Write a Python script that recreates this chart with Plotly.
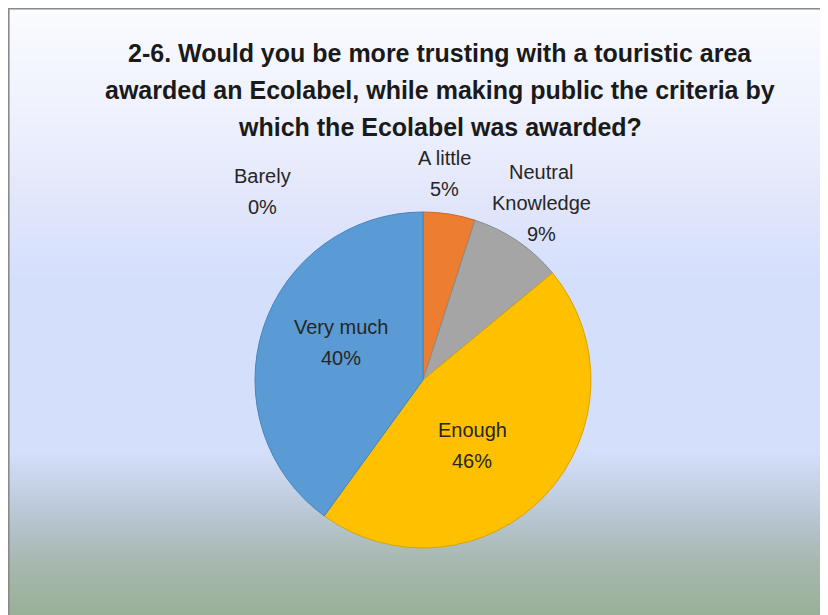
import plotly.graph_objects as go

# ---- data ----
categories = ["Barely", "A little", "Neutral<br>Knowledge", "Enough", "Very much"]
values = [0, 5, 9, 46, 40]
colors = ["#7F6000", "#ED7D31", "#A5A5A5", "#FFC000", "#5B9BD5"]
edge_colors = ["#6a5000", "#C8692A", "#8C8C8C", "#D9A300", "#4A84B8"]
title_lines = ["2-6. Would you be more trusting with a touristic area",
               "awarded an Ecolabel, while making public the criteria by",
               "which the Ecolabel was awarded?"]

W, H = 828, 615
OFF = 8  # page body margin
FONT = "Liberation Sans Narrow, Liberation Sans, Arial"


def px(x):
    return (x - OFF) / W


def py(y):
    return 1 - (y - OFF) / H


fig = go.Figure()
R = 168
CX, CY = 423, 380
fig.add_trace(go.Pie(
    labels=categories, values=values, sort=False, direction="clockwise",
    rotation=0, textinfo="none", hoverinfo="label+percent",
    marker=dict(colors=colors, line=dict(color=edge_colors, width=1)),
    domain=dict(x=[px(CX - R), px(CX + R)], y=[py(CY + R), py(CY - R)]),
    showlegend=False,
))

# ---- background gradient (styling) ----
stops = [(0, (251, 252, 255)), (120, (238, 241, 252)), (200, (226, 230, 251)),
         (280, (212, 223, 252)), (450, (212, 223, 252)), (470, (205, 216, 240)),
         (510, (186, 200, 216)), (560, (168, 184, 176)), (615, (152, 176, 152))]


def col_at(y):
    for (y0, c0), (y1, c1) in zip(stops[:-1], stops[1:]):
        if y0 <= y <= y1:
            t = (y - y0) / (y1 - y0) if y1 > y0 else 0
            return tuple(round(a + (b - a) * t) for a, b in zip(c0, c1))
    return stops[-1][1]


shapes = []
step = 4
for y in range(0, H, step):
    c = col_at(y + OFF + step / 2)
    shapes.append(dict(type="rect", xref="paper", yref="paper", layer="below",
                       x0=0, x1=1, y0=1 - (y + step + 1) / H, y1=1 - y / H,
                       fillcolor="rgb(%d,%d,%d)" % c, line=dict(width=0)))
# frame
shapes.append(dict(type="line", xref="paper", yref="paper", x0=0.6 / W, x1=0.6 / W,
                   y0=0, y1=1, line=dict(color="#8a8a8a", width=2)))
shapes.append(dict(type="line", xref="paper", yref="paper", x0=0, x1=1,
                   y0=1 - 0.6 / H, y1=1 - 0.6 / H, line=dict(color="#8a8a8a", width=2)))

# ---- data labels ----
label_pos = [(263, 176), (444, 158), (541, 172), (472, 430), (341, 327)]
LINE = 31
annotations = []
total = sum(values)
for cat, v, (lx, ly) in zip(categories, values, label_pos):
    lines = cat.split("<br>") + [f"{round(100 * v / total)}%"]
    for i, t in enumerate(lines):
        annotations.append(dict(
            text=t, x=px(lx), y=py(ly + i * LINE),
            xref="paper", yref="paper", showarrow=False, xanchor="center",
            yanchor="middle", font=dict(family=FONT, size=20, color="#262626")))

for i, t in enumerate(title_lines):
    annotations.append(dict(
        text=f"<b>{t}</b>", x=px(440), y=py(53 + i * 37), xref="paper", yref="paper",
        showarrow=False, xanchor="center", yanchor="middle",
        font=dict(family=FONT, size=25, color="#1a1a1a")))

fig.update_layout(
    width=W, height=H, margin=dict(l=0, r=0, t=0, b=0),
    paper_bgcolor="white", plot_bgcolor="white",
    shapes=shapes, annotations=annotations,
)
fig.write_html("out.html")
